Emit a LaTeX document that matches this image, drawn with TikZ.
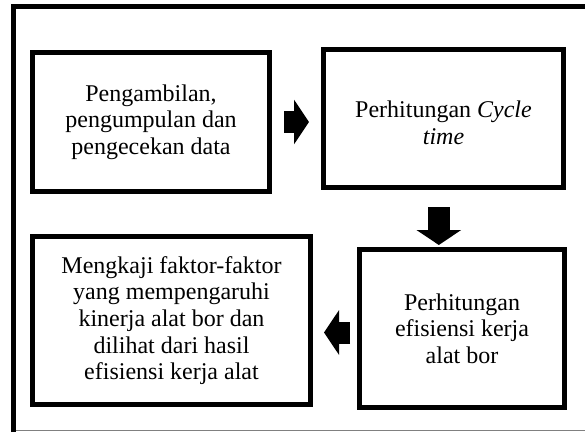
\documentclass[tikz,border=0pt]{standalone}
\usepackage{fontspec}
\setmainfont{Liberation Serif}
\usetikzlibrary{arrows.meta}
\begin{document}
\begin{tikzpicture}[x=0.75pt,y=-0.75pt,
	stagebox/.style={draw,line width=3.75pt,align=center,inner sep=0pt,
		font=\fontsize{18}{20}\selectfont},
	blockarrow/.style={line width=16.5pt,-{Triangle[length=11.25pt,width=33pt]}}]
	\useasboundingbox (0,0) rectangle (585,432);
	% outer frame
	\draw[line width=3.75pt] (13.5,432) -- (13.5,6) -- (585,6);
	\draw[line width=0.9pt,gray] (16,430.5) -- (585,430.5);
	% stages
	\node[stagebox,minimum width=177.75pt,minimum height=104.25pt] (ambil) at (151,122)
		{Pengambilan,\\pengumpulan dan\\pengecekan data};
	\node[stagebox,minimum width=180pt,minimum height=103.5pt] (cycle) at (443.5,118.5)
		{\rule{0pt}{18.5pt}Perhitungan \textit{Cycle}\\\textit{time}};
	\node[stagebox,minimum width=153.75pt,minimum height=118.5pt] (efisiensi) at (462,328.5)
		{Perhitungan\\efisiensi kerja\\alat bor};
	\node[stagebox,minimum width=208.5pt,minimum height=126pt] (kaji) at (171.5,320.5)
		{Mengkaji faktor-faktor\\yang mempengaruhi\\kinerja alat bor dan\\dilihat dari hasil\\efisiensi kerja alat};
	% arrows
	\draw[blockarrow,shorten <=9pt,shorten >=9pt] (ambil.east) -- (ambil.east -| cycle.west);
	\draw[blockarrow,shorten <=12.75pt,shorten >=1.5pt] ([xshift=-3.5pt]cycle.south) -- ([xshift=-3.5pt]cycle.south |- efisiensi.north);
	\draw[blockarrow,shorten <=5.25pt,shorten >=8.25pt] ([yshift=-3pt]efisiensi.west) -- ([yshift=-3pt]efisiensi.west -| kaji.east);
\end{tikzpicture}
\end{document}
